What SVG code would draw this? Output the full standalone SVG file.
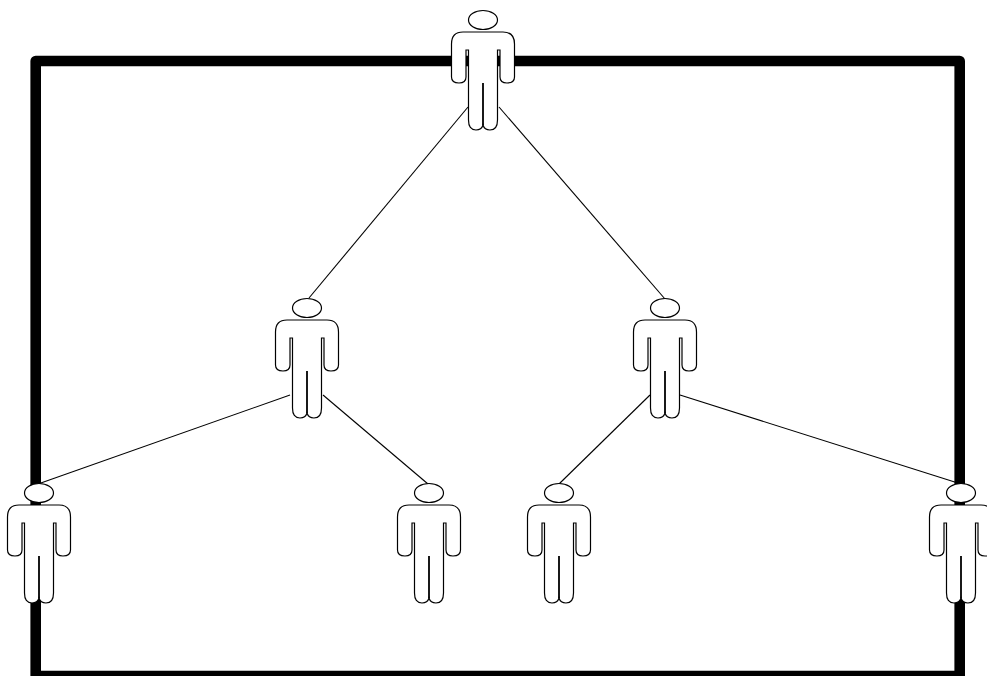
<svg xmlns="http://www.w3.org/2000/svg" width="987" height="676" viewBox="0 0 987 676">
<style>
.frame{fill:none;stroke:#000;stroke-width:10.6;stroke-linejoin:round}
.link{fill:none;stroke:#000;stroke-width:1.1}
.fig{fill:#fff;stroke:#000;stroke-width:1.2}
.slit{fill:none;stroke:#000;stroke-width:1.8}
</style>
<defs>
<g id="person">
<ellipse class="fig" cx="0" cy="-12" rx="14.5" ry="9.5"/>
<path class="fig" d="M-20,0H20Q31.5,0 31.5,12V45Q31.5,51 24,51Q17,51 17,45V18H14.5V88Q14.5,98 7,98Q1.5,98 0,93Q-1.5,98 -7,98Q-14.5,98 -14.5,88V18H-17V45Q-17,51 -24,51Q-31.5,51 -31.5,45V12Q-31.5,0 -20,0Z"/>
<path class="slit" d="M0,51V93"/>
</g>
</defs>
<rect class="frame" x="35.7" y="61" width="924" height="615"/>
<g id="connectors">
<line class="link" x1="468" y1="107" x2="309" y2="298"/>
<line class="link" x1="499" y1="107" x2="665" y2="299"/>
<line class="link" x1="290" y1="395" x2="38" y2="484"/>
<line class="link" x1="323" y1="395" x2="428" y2="484"/>
<line class="link" x1="650" y1="395" x2="559" y2="484"/>
<line class="link" x1="680" y1="395" x2="961" y2="484"/>
</g>
<g id="node-top"><use href="#person" x="483" y="32"/></g>
<g id="node-mid-left"><use href="#person" x="307" y="320"/></g>
<g id="node-mid-right"><use href="#person" x="665" y="320"/></g>
<g id="node-leaf-1"><use href="#person" x="39" y="505"/></g>
<g id="node-leaf-2"><use href="#person" x="429" y="505"/></g>
<g id="node-leaf-3"><use href="#person" x="559" y="505"/></g>
<g id="node-leaf-4"><use href="#person" x="961" y="505"/></g>
</svg>
